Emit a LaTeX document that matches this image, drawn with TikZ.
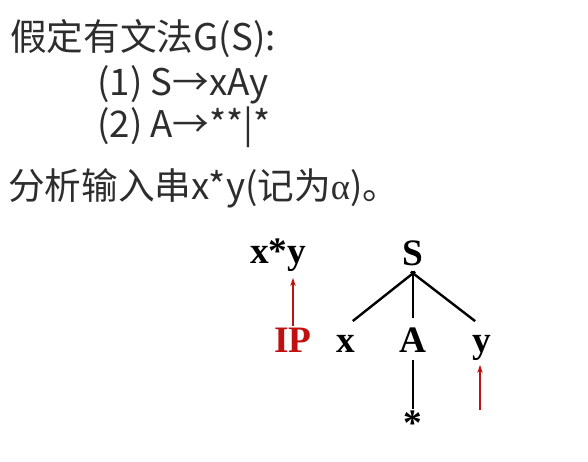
\documentclass[tikz,border=0pt]{standalone}
\usepackage{fontspec}
\setmainfont{Liberation Serif}
\newfontfamily\cjk{Noto Sans CJK SC}
\usetikzlibrary{arrows.meta}
\definecolor{ipred}{RGB}{192,16,16}
\definecolor{txtgray}{RGB}{45,45,45}
\tikzset{
  rule/.style={anchor=base west, inner sep=0pt, text=txtgray,
    font=\cjk\fontsize{27.5}{30}\selectfont},
  sym/.style={anchor=base, inner sep=0pt, text height=19pt, text depth=6pt,
    font=\fontsize{28}{28}\selectfont\bfseries},
  edge/.style={line width=1.8pt},
  ptr/.style={-{Stealth[length=6pt,width=4pt]}, ipred, line width=1.2pt}
}
\begin{document}
\begin{tikzpicture}[x=0.75pt,y=-0.75pt]
			\useasboundingbox (0,0) rectangle (588,461);
			% grammar and input
			\node[rule] (g) at (10,50) {假定有文法G(S):};
			\node[rule] (r1) at (97,95) {(1) S→xAy};
			\node[rule] (r2) at (97,137) {(2) A→**|*};
			\node[rule] (in) at (8,199) {分析输入串x*y(记为{\rmfamily α})。};
			% input string and pointer
			\node[sym] (xy) at (278,263) {x*y};
			\node[sym, text=ipred] (IP) at (293,352) {IP};
			% syntax tree
			\node[sym] (S) at (413,265) {S};
			\node[sym] (x) at (346,352) {x};
			\node[sym] (A) at (413,352) {A};
			\node[sym] (y) at (482,352) {y};
			\node[sym] (star) at (413,435) {*};
			\coordinate (yp) at (480,410);
			\draw[edge, shorten <=-2pt, shorten >=6.5pt] (S.south) -- (x.north);
			\draw[edge, shorten <=-2pt, shorten >=6.5pt] (S.south) -- (A.north);
			\draw[edge, shorten <=-2pt, shorten >=6.5pt] (S.south) -- (y.north);
			\draw[edge] (A.south) -- (star.north);
			\draw[ptr, shorten >=5pt] (IP.north) -- (IP.north |- xy.south);
			\draw[ptr, shorten >=3.5pt] (yp) -- (yp |- y.south);
		\end{tikzpicture}
\end{document}
